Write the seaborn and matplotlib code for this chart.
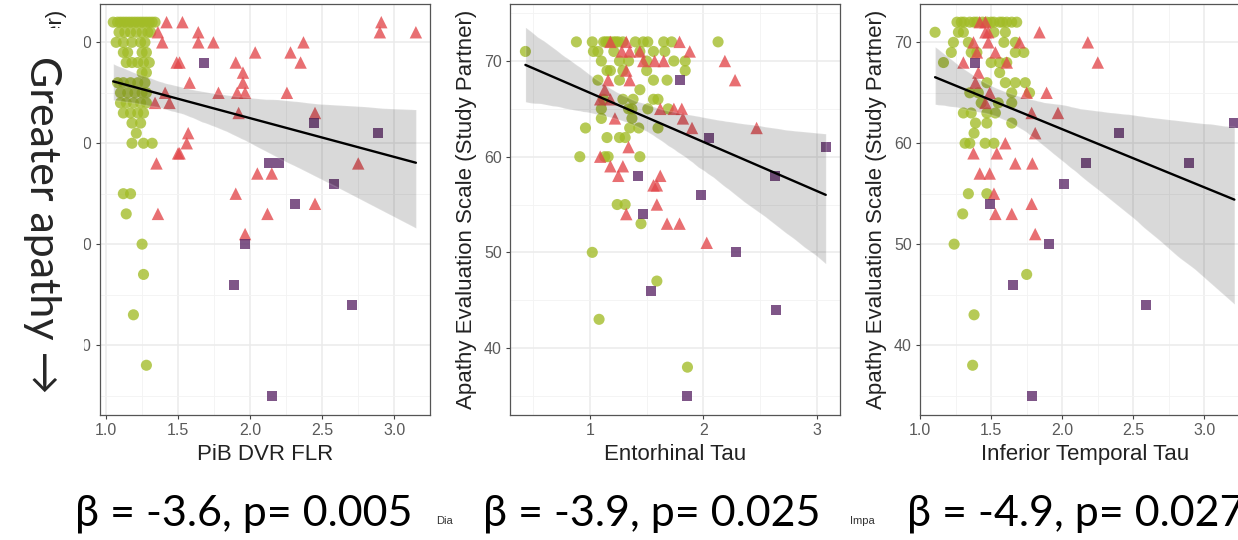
import pandas as pd
import matplotlib.pyplot as plt
from matplotlib.patches import Rectangle
from matplotlib.ticker import MultipleLocator, FormatStrFormatter
import seaborn as sns

# ---- panel 1: PiB DVR FLR ----
pib_a_x = [1.05, 1.08, 1.10, 1.12, 1.14, 1.16, 1.18, 1.20, 1.22, 1.24, 1.26, 1.28, 1.30, 1.32, 1.34,
           1.09, 1.13, 1.17, 1.21, 1.25, 1.29, 1.31,
           1.07, 1.12, 1.18, 1.24, 1.27,
           1.12, 1.15, 1.25, 1.28,
           1.14, 1.18, 1.22, 1.26, 1.30,
           1.25, 1.28,
           1.08, 1.12, 1.17, 1.22, 1.27,
           1.10, 1.15, 1.20, 1.25, 1.28,
           1.10, 1.14, 1.19, 1.24, 1.28,
           1.12, 1.17, 1.22, 1.26,
           1.18, 1.24, 1.21, 1.18, 1.26, 1.32,
           1.12, 1.17, 1.14, 1.25, 1.26, 1.19, 1.28]
pib_a_y = [72] * 15 + [71] * 7 + [70] * 5 + [69] * 4 + [68] * 5 + [67] * 2 + [66] * 5 + [65] * 5 \
    + [64] * 5 + [63] * 4 + [62, 62, 61, 60, 60, 60, 55, 55, 53, 50, 47, 43, 38]

pib_b_x = [1.42, 1.53, 1.36, 1.39, 1.64, 1.64, 1.745, 2.91, 2.90, 3.15, 2.37, 2.035, 2.28,
           1.49, 1.51, 1.90, 2.35, 1.95, 1.58, 1.95, 1.41, 1.78, 1.91, 1.965, 2.255,
           1.34, 1.44, 1.92, 2.45, 1.57, 1.56, 1.50, 1.51, 1.35, 2.75, 2.05, 2.15,
           1.90, 2.45, 1.36, 2.12, 1.965]
pib_b_y = [72, 72, 71, 70, 71, 70, 70, 72, 71, 71, 70, 69, 69,
           68, 68, 68, 68, 67, 66, 66, 65, 65, 65, 65, 65,
           64, 64, 63, 63, 61, 60, 59, 59, 58, 58, 57, 57,
           55, 54, 53, 53, 51]

pib_c_x = [1.68, 2.44, 2.89, 2.13, 2.20, 2.58, 2.31, 1.965, 1.89, 2.71, 2.15]
pib_c_y = [68, 62, 61, 58, 58, 56, 54, 50, 46, 44, 35]

# ---- panel 2: Entorhinal Tau ----
ent_a_x = [0.43,
           0.88, 1.02, 1.12, 1.14, 1.16, 1.18, 1.21, 1.23, 1.25, 1.29, 1.40, 1.47, 1.51, 1.65, 1.72, 2.13,
           1.03, 1.07, 1.21, 1.44, 1.56, 1.66,
           1.10, 1.26, 1.34, 1.50, 1.74, 1.84,
           1.15, 1.18, 1.29, 1.50, 1.84,
           1.07, 1.26, 1.56, 1.68,
           1.44,
           1.12, 1.29, 1.38, 1.56, 1.60,
           1.10, 1.34, 1.37, 1.51, 1.69,
           1.10, 1.37,
           0.96, 1.35, 1.43, 1.60,
           1.15, 1.26, 1.31,
           0.91, 1.13, 1.16, 1.44,
           1.24, 1.31, 1.45, 1.02, 1.59, 1.08, 1.86]
ent_a_y = [71] + [72] * 16 + [71] * 6 + [70] * 6 + [69] * 5 + [68] * 4 + [67] + [66] * 5 + [65] * 5 \
    + [64] * 2 + [63] * 4 + [62] * 3 + [60] * 4 + [55, 55, 53, 50, 47, 43, 38]

ent_b_x = [1.18, 1.32, 1.79, 1.28, 1.35, 1.44, 1.88, 1.47, 1.57, 1.65, 2.19, 1.32,
           1.16, 1.35, 2.28, 1.13, 1.09, 1.18, 1.62, 1.74, 1.81, 1.82, 1.22, 1.90, 2.47,
           1.34, 1.09, 1.18, 1.29, 1.25, 1.62, 1.56, 1.59, 1.59, 1.32, 1.68, 1.79, 2.03]
ent_b_y = [72, 72, 72, 71, 71, 71, 71, 70, 70, 70, 70, 69,
           68, 68, 68, 67, 66, 66, 65, 65, 65, 64, 64, 63, 63,
           61, 60, 59, 59, 58, 58, 57, 57, 55, 54, 53, 53, 51]

ent_c_x = [1.79, 2.05, 3.08, 1.42, 2.63, 1.98, 1.47, 2.29, 1.54, 2.64, 1.86]
ent_c_y = [68, 62, 61, 58, 58, 56, 54, 50, 46, 44, 35]

# ---- panel 3: Inferior Temporal Tau ----
it_a_x = [1.106,
          1.26, 1.29, 1.31, 1.35, 1.38, 1.40, 1.44, 1.47, 1.50, 1.52, 1.56, 1.58, 1.61, 1.645, 1.68,
          1.27, 1.305, 1.52, 1.60,
          1.235, 1.34, 1.59, 1.67,
          1.22, 1.36, 1.40, 1.67, 1.73,
          1.165, 1.50, 1.56, 1.61,
          1.56,
          1.47, 1.60, 1.67, 1.74,
          1.35, 1.41, 1.645, 1.77,
          1.43, 1.55, 1.645,
          1.305, 1.36, 1.47, 1.53,
          1.39, 1.47, 1.645,
          1.38,
          1.317, 1.35, 1.458, 1.52,
          1.34, 1.47, 1.30, 1.24, 1.75, 1.38, 1.37]
it_a_y = [71] + [72] * 15 + [71] * 4 + [70] * 4 + [69] * 5 + [68] * 4 + [67] + [66] * 4 + [65] * 4 \
    + [64] * 3 + [63] * 4 + [62] * 3 + [61] + [60] * 4 + [55, 55, 53, 50, 47, 43, 38]

it_b_x = [1.42, 1.46, 1.84, 1.46, 1.48, 1.376, 1.48, 1.70, 2.18, 1.40, 1.53,
          1.305, 1.61, 2.25, 1.41, 1.39, 1.49, 1.75, 1.89, 1.46, 1.785, 1.97,
          1.81, 1.60, 1.376, 1.54, 1.67, 1.79, 1.42, 1.49, 1.52, 1.53, 1.645, 1.785, 1.81]
it_b_y = [72, 72, 71, 71, 71, 70, 70, 70, 70, 69, 69,
          68, 68, 68, 67, 66, 65, 65, 65, 64, 63, 63,
          61, 60, 59, 59, 58, 58, 57, 57, 55, 53, 53, 54, 51]

it_c_x = [1.39, 2.40, 3.21, 2.17, 2.89, 2.01, 1.49, 1.91, 1.657, 2.59, 1.79]
it_c_y = [68, 61, 62, 58, 58, 56, 54, 50, 46, 44, 35]

x_labels = ['PiB DVR FLR', 'Entorhinal Tau', 'Inferior Temporal Tau']
stats_text = ['β = -3.6, p= 0.005', 'β = -3.9, p= 0.025', 'β = -4.9, p= 0.027']

palette = {'A': '#a2bc27', 'B': '#e2474b', 'C': '#5b2767'}
markers = {'A': 'o', 'B': '^', 'C': 's'}
sizes = {'A': 64, 'B': 80, 'C': 52}

sns.set_style('white')
plt.rcParams['font.family'] = ['Liberation Sans', 'DejaVu Sans']

W, H = 1238, 540
fig = plt.figure(figsize=(W / 100, H / 100), dpi=100)


def make_df(ax_, ay_, bx_, by_, cx_, cy_):
    return pd.DataFrame({
        'x': ax_ + bx_ + cx_,
        'y': ay_ + by_ + cy_,
        'group': ['A'] * len(ax_) + ['B'] * len(bx_) + ['C'] * len(cx_),
    })


def panel(left, right, top, bottom):
    return fig.add_axes([left / W, 1 - bottom / H, (right - left) / W, (bottom - top) / H])


panels = [
    (panel(100, 430, 4, 415), make_df(pib_a_x, pib_a_y, pib_b_x, pib_b_y, pib_c_x, pib_c_y),
     (0.958, 3.248), (33.07, 73.8), 0.5, '%.1f'),
    (panel(510, 840, 4, 415), make_df(ent_a_x, ent_a_y, ent_b_x, ent_b_y, ent_c_x, ent_c_y),
     (0.294, 3.206), (33.0, 75.96), 1.0, '%d'),
    (panel(920, 1250, 4, 415), make_df(it_a_x, it_a_y, it_b_x, it_b_y, it_c_x, it_c_y),
     (1.0, 3.32), (33.07, 73.8), 0.5, '%.1f'),
]

for i, (ax, df, xlim, ylim, step, fmt) in enumerate(panels):
    sns.scatterplot(data=df, x='x', y='y', hue='group', style='group', size='group',
                    palette=palette, markers=markers, sizes=sizes, alpha=0.78,
                    edgecolor='none', legend=False, ax=ax)
    sns.regplot(data=df, x='x', y='y', scatter=False, color='black', seed=3,
                line_kws=dict(lw=1.7), ax=ax)
    ax.set_xlim(*xlim)
    ax.set_ylim(*ylim)
    ax.xaxis.set_major_locator(MultipleLocator(step))
    ax.xaxis.set_minor_locator(MultipleLocator(step / 2))
    ax.xaxis.set_major_formatter(FormatStrFormatter(fmt))
    ax.yaxis.set_major_locator(MultipleLocator(10))
    ax.yaxis.set_minor_locator(MultipleLocator(5))
    ax.grid(which='major', color='#ebebeb', lw=1.1)
    ax.grid(which='minor', color='#f3f3f3', lw=0.6)
    ax.set_axisbelow(True)
    for sp in ax.spines.values():
        sp.set_color('#555555')
        sp.set_linewidth(0.9)
    ax.tick_params(which='major', direction='out', length=3, width=0.8, color='#444444',
                   labelsize=11.5, labelcolor='#5a5a5a', pad=3, left=True, bottom=True)
    ax.tick_params(which='minor', length=0)
    ax.set_xlabel(x_labels[i], fontsize=16, color='#222222', labelpad=4)
    ax.set_ylabel('Apathy Evaluation Scale (Study Partner)', fontsize=16, color='#222222', labelpad=5)

# slide overlay on the left covering most of the first y axis
fig.add_artist(Rectangle((0, 0.12), 84 / W, 1 - 28 / H - 0.12, transform=fig.transFigure,
                         facecolor='white', edgecolor='none', zorder=5))
fig.text(42 / W, 1 - 225 / H, 'Greater apathy →', rotation=-90, ha='center', va='center',
         fontsize=31, family=['Lato', 'DejaVu Sans'], zorder=6)

for xpos, txt in zip([75, 483, 907], stats_text):
    fig.text(xpos / W, 1 - 514 / H, txt, ha='left', va='center', fontsize=31,
             family=['Lato', 'DejaVu Sans'], color='black')
fig.text(436 / W, 1 - 521 / H, 'Dia', ha='left', va='center', fontsize=8, color='#333333')
fig.text(850 / W, 1 - 521 / H, 'Impa', ha='left', va='center', fontsize=8, color='#333333')

fig.savefig('out.png', dpi=100)
